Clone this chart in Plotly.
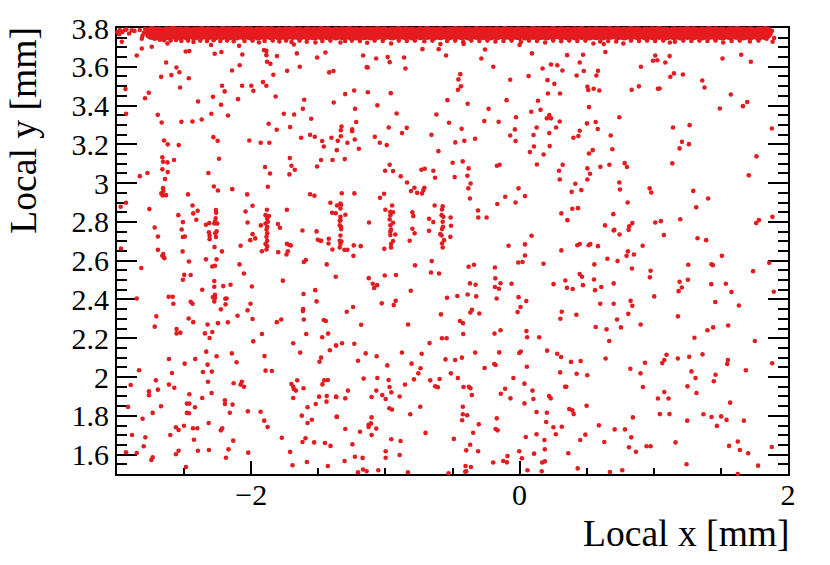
"""Hit map of the sensor in local coordinates."""
import plotly.graph_objects as go

RED = "#e41b1f"
BLACK = "#000000"
SERIF = "Liberation Serif, Times New Roman, serif"

X_TICKS = [-2, 0, 2]
X_TICK_LABELS = ["−2", "0", "2"]
Y_TICKS = [1.6, 1.8, 2, 2.2, 2.4, 2.6, 2.8, 3, 3.2, 3.4, 3.6, 3.8]
Y_TICK_LABELS = ["1.6", "1.8", "2", "2.2", "2.4", "2.6", "2.8", "3", "3.2", "3.4", "3.6", "3.8"]

# saturated strip along the top edge, too dense to read single hits
BAND_CORE = [
    (-2.74, 3.774), (-2.69, 3.772), (-2.63, 3.773), (-2.58, 3.775), (-2.53, 3.772), (-2.48, 3.773), (-2.42, 3.772),
    (-2.37, 3.774), (-2.32, 3.773), (-2.27, 3.772), (-2.21, 3.774), (-2.16, 3.773), (-2.11, 3.772), (-2.06, 3.774),
    (-2.01, 3.773), (-1.95, 3.772), (-1.90, 3.774), (-1.85, 3.773), (-1.79, 3.772), (-1.74, 3.773), (-1.69, 3.774),
    (-1.64, 3.772), (-1.58, 3.773), (-1.53, 3.772), (-1.48, 3.774), (-1.43, 3.773), (-1.37, 3.772), (-1.32, 3.773),
    (-1.27, 3.774), (-1.22, 3.772), (-1.16, 3.773), (-1.11, 3.772), (-1.06, 3.774), (-1.01, 3.773), (-0.95, 3.772),
    (-0.90, 3.774), (-0.85, 3.773), (-0.80, 3.772), (-0.74, 3.773), (-0.69, 3.774), (-0.64, 3.772), (-0.59, 3.773),
    (-0.53, 3.772), (-0.48, 3.774), (-0.43, 3.773), (-0.38, 3.772), (-0.32, 3.774), (-0.27, 3.773), (-0.22, 3.772),
    (-0.17, 3.773), (-0.11, 3.774), (-0.06, 3.772), (-0.01, 3.773), (0.04, 3.772), (0.10, 3.774), (0.15, 3.773),
    (0.20, 3.772), (0.25, 3.774), (0.31, 3.773), (0.36, 3.772), (0.41, 3.773), (0.46, 3.774), (0.52, 3.772),
    (0.57, 3.773), (0.62, 3.772), (0.67, 3.774), (0.73, 3.773), (0.78, 3.772), (0.83, 3.774), (0.88, 3.773),
    (0.94, 3.772), (0.99, 3.773), (1.04, 3.774), (1.09, 3.772), (1.15, 3.773), (1.20, 3.772), (1.25, 3.774),
    (1.30, 3.773), (1.36, 3.772), (1.41, 3.774), (1.46, 3.773), (1.51, 3.772), (1.57, 3.773), (1.62, 3.774),
    (1.67, 3.772), (1.72, 3.773), (1.78, 3.772), (1.83, 3.774),
]

BAND_EDGE = [
    (-2.997, 3.779), (-2.979, 3.789), (-2.985, 3.768), (-2.96, 3.78), (-2.94, 3.79), (-2.93, 3.793), (-2.91, 3.772),
    (-2.89, 3.788), (-2.87, 3.785), (-2.83, 3.79), (-2.815, 3.745), (-2.81, 3.76), (-2.80, 3.775), (-2.79, 3.795),
    (-2.77, 3.76), (-2.76, 3.785), (-2.74, 3.755), (-2.72, 3.745), (-2.68, 3.74), (-2.65, 3.737), (-2.624, 3.72),
    (-2.60, 3.735), (-2.56, 3.738), (-2.52, 3.733), (-2.47, 3.735), (-2.43, 3.728), (-2.38, 3.735), (-2.33, 3.733),
    (-2.28, 3.737), (-2.23, 3.733), (-2.18, 3.735), (-2.13, 3.732), (-2.09, 3.708), (-2.05, 3.733), (-1.99, 3.735),
    (-1.942, 3.725), (-1.90, 3.733), (-1.84, 3.735), (-1.79, 3.731), (-1.74, 3.735), (-1.70, 3.728), (-1.64, 3.735),
    (-1.586, 3.729), (-1.521, 3.725), (-1.47, 3.733), (-1.41, 3.735), (-1.335, 3.725), (-1.30, 3.733), (-1.25, 3.735),
    (-1.19, 3.733), (-1.136, 3.724), (-1.08, 3.735), (-1.02, 3.733), (-0.958, 3.72), (-0.90, 3.735), (-0.84, 3.733),
    (-0.78, 3.735), (-0.71, 3.732), (-0.65, 3.735), (-0.59, 3.717), (-0.54, 3.733), (-0.48, 3.735), (-0.42, 3.728),
    (-0.36, 3.735), (-0.30, 3.733), (-0.24, 3.735), (-0.18, 3.73), (-0.12, 3.733), (-0.06, 3.735), (0.01, 3.728),
    (0.07, 3.735), (0.13, 3.733), (0.19, 3.725), (0.25, 3.735), (0.31, 3.732), (0.37, 3.735), (0.43, 3.733),
    (0.49, 3.735), (0.55, 3.72), (0.60, 3.73), (0.66, 3.733), (0.72, 3.73), (0.773, 3.72), (0.83, 3.735),
    (0.89, 3.733), (0.95, 3.735), (1.01, 3.733), (1.07, 3.735), (1.12, 3.725), (1.157, 3.729), (1.22, 3.735),
    (1.28, 3.733), (1.34, 3.735), (1.40, 3.733), (1.46, 3.735), (1.517, 3.725), (1.58, 3.733), (1.64, 3.735),
    (1.716, 3.73), (1.78, 3.735), (1.84, 3.745), (1.87, 3.77), (1.88, 3.785), (1.86, 3.793),
]

HITS_UPPER = [
    (-2.964, 3.729), (-2.853, 3.658), (-2.815, 3.694), (-2.741, 3.703), (-2.937, 3.485), (-2.791, 3.438),
    (-2.763, 3.466), (-2.932, 3.358), (-2.696, 3.352), (-2.667, 3.313), (-2.671, 3.548), (-2.634, 3.622),
    (-2.595, 3.557), (-2.557, 3.596), (-2.535, 3.572), (-2.465, 3.541), (-2.53, 3.493), (-2.488, 3.679),
    (-2.461, 3.681), (-2.52, 3.316), (-2.438, 3.318), (-2.369, 3.328), (-2.396, 3.421), (-2.285, 3.445),
    (-2.297, 3.358), (-2.217, 3.502), (-2.198, 3.473), (-2.225, 3.404), (-2.173, 3.349), (-2.143, 3.581),
    (-2.272, 3.667), (-2.222, 3.676), (-2.299, 3.712), (-2.086, 3.608), (-2.098, 3.433), (-2.068, 3.502),
    (-2.066, 3.663), (-1.999, 3.502), (-1.984, 3.476), (-1.912, 3.521), (-1.887, 3.502), (-1.905, 3.686),
    (-1.887, 3.682), (-1.887, 3.66), (-1.882, 3.626), (-1.857, 3.615), (-1.835, 3.559), (-1.808, 3.655),
    (-1.818, 3.447), (-1.87, 3.306), (-1.81, 3.275), (-2.014, 3.22), (-1.929, 3.208), (-1.865, 3.208),
    (-2.282, 3.237), (-2.25, 3.218), (-2.24, 3.126), (-2.319, 3.052), (-2.649, 3.22), (-2.622, 3.2),
    (-2.54, 3.196), (-2.662, 3.133), (-2.657, 3.11), (-2.624, 3.107), (-2.575, 3.119), (-2.662, 3.071),
    (-2.622, 3.057), (-2.83, 3.036), (-2.773, 3.052), (-2.642, 3.021), (-1.897, 3.083), (-1.86, 3.05),
    (-1.682, 3.715), (-1.66, 3.669), (-1.638, 3.6), (-1.732, 3.579), (-1.509, 3.648), (-1.447, 3.674),
    (-1.419, 3.571), (-1.387, 3.578), (-1.166, 3.658), (-1.069, 3.643), (-0.983, 3.65), (-0.968, 3.624),
    (-0.861, 3.648), (-0.851, 3.591), (-1.139, 3.598), (-1.132, 3.596), (-0.724, 3.691), (-0.603, 3.691),
    (-0.548, 3.658), (-0.258, 3.689), (-0.285, 3.643), (-0.196, 3.6), (-0.417, 3.718), (0.0, 3.712),
    (0.092, 3.669), (0.171, 3.591), (0.067, 3.552), (-0.07, 3.533), (0.208, 3.531), (0.211, 3.462),
    (-0.442, 3.562), (-0.456, 3.535), (-0.437, 3.499), (-0.459, 3.481), (-0.538, 3.428), (-0.387, 3.409),
    (-0.097, 3.428), (-0.231, 3.383), (0.137, 3.425), (0.087, 3.368), (0.156, 3.378), (-0.027, 3.34),
    (0.203, 3.334), (0.221, 3.351), (-0.263, 3.32), (-0.156, 3.316), (-0.62, 3.354), (-0.526, 3.311),
    (-0.432, 3.28), (-0.035, 3.277), (0.127, 3.287), (-0.07, 3.246), (0.104, 3.248), (-0.03, 3.217),
    (-0.657, 3.249), (-0.479, 3.21), (-0.412, 3.218), (-0.332, 3.229), (0.107, 3.189), (0.077, 3.16),
    (0.179, 3.148), (0.221, 3.258), (0.224, 3.191), (-0.605, 3.165), (-0.499, 3.105), (-0.424, 3.112),
    (-0.38, 3.076), (-0.169, 3.09), (-0.149, 3.095), (0.129, 3.096), (-0.732, 3.069), (-0.707, 3.074),
    (-0.643, 3.064), (-0.63, 3.028), (-0.484, 3.031), (-0.389, 3.038), (-1.002, 3.064), (-0.968, 3.095),
    (-0.943, 3.062), (-0.886, 3.035), (-0.96, 3.464), (-1.131, 3.469), (-1.233, 3.478), (-1.3, 3.459),
    (-1.385, 3.416), (-1.605, 3.43), (-1.615, 3.383), (-1.757, 3.358), (-1.68, 3.354), (-1.553, 3.332),
    (-1.06, 3.401), (-1.226, 3.383), (-0.916, 3.359), (-1.218, 3.315), (-0.975, 3.287), (-0.841, 3.285),
    (-0.876, 3.258), (-1.327, 3.292), (-1.332, 3.273), (-1.332, 3.242), (-1.248, 3.277), (-1.248, 3.268),
    (-1.71, 3.289), (-1.628, 3.234), (-1.561, 3.249), (-1.526, 3.239), (-1.402, 3.234), (-1.471, 3.217),
    (-1.459, 3.189), (-1.355, 3.218), (-1.283, 3.208), (-1.228, 3.225), (-1.079, 3.239), (-1.042, 3.208),
    (-0.99, 3.196), (-1.198, 3.177), (-1.362, 3.17), (-1.303, 3.124), (-1.394, 3.119), (-1.479, 3.119),
    (-1.509, 3.086), (-1.712, 3.129), (-1.7, 3.09), (-1.675, 3.069), (-1.715, 3.045),
    (0.627, 3.717), (0.639, 3.676), (0.354, 3.66), (0.473, 3.662), (0.448, 3.622), (0.234, 3.612),
    (0.281, 3.608), (0.319, 3.581), (0.478, 3.578), (0.425, 3.555), (0.584, 3.579), (0.572, 3.555),
    (0.259, 3.512), (0.301, 3.462), (0.505, 3.497), (0.512, 3.48), (0.552, 3.487), (0.594, 3.478),
    (0.904, 3.6), (0.835, 3.481), (0.889, 3.499), (1.011, 3.658), (0.994, 3.631), (1.026, 3.634),
    (1.118, 3.655), (1.086, 3.622), (1.15, 3.566), (1.123, 3.548), (1.217, 3.56), (1.031, 3.487),
    (1.043, 3.488), (1.361, 3.529), (1.378, 3.493), (1.512, 3.643), (1.651, 3.662), (1.723, 3.626),
    (1.897, 3.748), (1.885, 3.729), (1.574, 3.457), (1.696, 3.418), (1.664, 3.397), (1.492, 3.385),
    (0.517, 3.392), (0.743, 3.34), (0.299, 3.318), (0.502, 3.308), (0.567, 3.315), (0.272, 3.287),
    (0.582, 3.279), (0.448, 3.27), (0.438, 3.243), (0.401, 3.234), (0.679, 3.246), (1.143, 3.287),
    (1.267, 3.299), (1.88, 3.282), (1.21, 3.213), (1.262, 3.201), (1.192, 3.179), (0.691, 3.175),
    (0.545, 3.17), (0.517, 3.153), (1.765, 3.138), (0.321, 3.095), (0.294, 3.064), (0.505, 3.076),
    (0.525, 3.048), (0.602, 3.084), (0.669, 3.095), (0.783, 3.103), (0.8, 3.083), (1.138, 3.102),
    (1.708, 3.04), (0.299, 3.019), (0.505, 3.019), (0.234, 3.334),
]

HITS_MIDDLE = [
    (-2.657, 2.974), (-2.655, 2.959), (-2.67, 2.947), (-2.66, 2.936), (-2.635, 2.938), (-3.002, 2.938),
    (-2.933, 2.899), (-2.973, 2.878), (-2.759, 2.866), (-2.471, 2.942), (-2.278, 2.983), (-2.248, 2.962),
    (-2.141, 2.969), (-2.03, 2.942), (-1.876, 2.981), (-2.437, 2.885), (-1.99, 2.883), (-1.561, 2.943),
    (-1.529, 2.935), (-2.432, 2.844), (-2.399, 2.857), (-2.543, 2.835), (-2.509, 2.799), (-2.409, 2.811),
    (-2.263, 2.861), (-2.261, 2.847), (-2.265, 2.818), (-2.27, 2.801), (-2.253, 2.792), (-2.275, 2.792),
    (-2.312, 2.794), (-2.337, 2.785), (-2.042, 2.854), (-2.027, 2.797), (-1.883, 2.863), (-1.734, 2.863),
    (-1.893, 2.835), (-1.868, 2.83), (-1.881, 2.818), (-1.876, 2.801), (-1.893, 2.792), (-1.881, 2.775),
    (-1.886, 2.761), (-1.881, 2.741), (-1.886, 2.723), (-1.881, 2.703), (-1.893, 2.686), (-1.881, 2.675),
    (-1.886, 2.658), (-1.92, 2.649), (-1.928, 2.782), (-1.801, 2.789), (-1.786, 2.77), (-2.719, 2.771),
    (-2.518, 2.761), (-2.695, 2.725), (-2.509, 2.722), (-2.494, 2.725), (-2.315, 2.747), (-2.31, 2.73),
    (-2.31, 2.711), (-2.258, 2.751), (-2.268, 2.741), (-2.263, 2.722), (-1.99, 2.737), (-1.97, 2.715),
    (-2.007, 2.706), (-1.618, 2.756), (-1.513, 2.751), (-1.504, 2.708), (-1.484, 2.703), (-1.734, 2.687),
    (-1.719, 2.682), (-1.705, 2.679), (-2.273, 2.67), (-2.218, 2.648), (-2.079, 2.677), (-2.97, 2.663),
    (-2.695, 2.656), (-2.655, 2.634), (-2.662, 2.625), (-2.647, 2.613), (-2.511, 2.648), (-1.799, 2.644),
    (-1.727, 2.649), (-1.737, 2.632), (-2.464, 2.596), (-2.337, 2.607), (-2.258, 2.607), (-2.29, 2.57),
    (-2.27, 2.574), (-2.087, 2.581), (-1.593, 2.603), (-1.608, 2.593), (-2.819, 2.562), (-2.054, 2.534),
    (-2.499, 2.527), (-2.451, 2.526), (-2.509, 2.502), (-2.275, 2.495), (-2.275, 2.466), (-2.208, 2.469),
    (-2.154, 2.476), (-1.995, 2.467), (-1.764, 2.497), (-2.365, 2.45), (-1.523, 2.448), (-1.61, 2.428),
    (-2.853, 2.405), (-2.615, 2.414), (-2.585, 2.414), (-2.27, 2.424), (-2.285, 2.412), (-2.27, 2.407),
    (-2.275, 2.39), (-2.193, 2.404), (-2.183, 2.405), (-2.451, 2.388), (-2.437, 2.378), (-2.58, 2.378),
    (-2.191, 2.375), (-2.005, 2.378), (-1.513, 2.39), (-2.226, 2.349), (-2.027, 2.344), (-1.613, 2.35),
    (-1.615, 2.34), (-2.707, 2.313), (-2.466, 2.302), (-2.432, 2.283), (-2.325, 2.271), (-2.248, 2.278),
    (-2.174, 2.282), (-2.102, 2.316), (-1.99, 2.299), (-1.809, 2.283), (-1.776, 2.297), (-1.608, 2.297),
    (-0.365, 2.998), (-0.382, 2.973), (-0.37, 2.921), (-0.839, 3.003), (-0.784, 2.976), (-0.809, 2.959),
    (-0.764, 2.95), (-0.727, 2.947), (-0.71, 2.976), (-0.717, 2.964), (-1.01, 2.945), (-1.04, 2.924),
    (-1.325, 2.948), (-1.231, 2.947), (-1.41, 2.899), (-1.335, 2.895), (-1.36, 2.885), (-1.33, 2.888),
    (-1.335, 2.869), (-1.397, 2.847), (-1.37, 2.845), (-1.298, 2.837), (-1.335, 2.826), (-1.335, 2.809),
    (-1.34, 2.806), (-1.122, 2.797), (-1.34, 2.782), (-1.33, 2.775), (-1.33, 2.763), (-1.335, 2.73),
    (-1.34, 2.703), (-1.328, 2.699), (-1.335, 2.686), (-1.34, 2.668), (-1.422, 2.713), (-1.424, 2.689),
    (-1.479, 2.703), (-1.395, 2.658), (-1.305, 2.656), (-1.283, 2.656), (-1.236, 2.679), (-1.184, 2.675),
    (-1.238, 2.625), (-1.437, 2.581), (-1.37, 2.517), (-0.95, 2.885), (-1.0, 2.863), (-0.963, 2.852),
    (-0.943, 2.85), (-0.963, 2.835), (-0.968, 2.813), (-0.943, 2.796), (-0.963, 2.783), (-0.958, 2.761),
    (-0.963, 2.749), (-0.926, 2.735), (-0.963, 2.732), (-0.943, 2.701), (-0.958, 2.686), (-0.958, 2.668),
    (-1.008, 2.661), (-0.799, 2.85), (-0.792, 2.83), (-0.799, 2.765), (-0.782, 2.741), (-0.819, 2.703),
    (-0.675, 2.816), (-0.643, 2.799), (-0.675, 2.754), (-0.633, 2.885), (-0.573, 2.881), (-0.578, 2.864),
    (-0.581, 2.835), (-0.568, 2.826), (-0.573, 2.801), (-0.571, 2.775), (-0.578, 2.763), (-0.591, 2.737),
    (-0.581, 2.73), (-0.563, 2.706), (-0.578, 2.689), (-0.573, 2.668), (-0.514, 2.823), (-0.511, 2.78),
    (-0.516, 2.723), (-0.31, 2.859), (-0.308, 2.823), (-0.246, 2.823), (-0.166, 2.892), (-0.107, 2.93),
    (-0.008, 2.973), (0.04, 2.933), (-0.03, 2.9), (0.089, 2.729), (-0.082, 2.677), (0.04, 2.684),
    (0.04, 2.627), (-0.01, 2.591), (0.022, 2.593), (0.178, 2.584), (-0.655, 2.598), (-0.779, 2.576),
    (-0.66, 2.539), (-0.6, 2.534), (-0.38, 2.569), (-0.34, 2.579), (-0.184, 2.565), (-0.181, 2.509),
    (-0.142, 2.484), (-0.184, 2.464), (-0.154, 2.455), (-0.06, 2.481), (0.253, 2.479), (-1.005, 2.524),
    (-0.921, 2.526), (-1.124, 2.51), (-1.094, 2.481), (-1.062, 2.474), (-1.084, 2.459), (-0.811, 2.445),
    (-0.37, 2.483), (-0.328, 2.476), (-0.387, 2.426), (-0.323, 2.416), (-0.464, 2.418), (-0.541, 2.409),
    (-0.171, 2.405), (-0.008, 2.412), (0.05, 2.392), (0.007, 2.361), (-0.015, 2.335), (-1.027, 2.38),
    (-0.923, 2.393), (-0.938, 2.371), (-1.241, 2.361), (-1.288, 2.337), (-0.355, 2.347), (-0.367, 2.333),
    (-0.30, 2.328), (-0.586, 2.323), (-0.444, 2.289), (-0.422, 2.278), (-1.459, 2.294), (-1.444, 2.289),
    (-1.181, 2.27), (-0.831, 2.271),
    (0.743, 3.003), (0.748, 2.967), (0.415, 2.997), (0.388, 2.955), (0.46, 2.964), (0.969, 2.973),
    (0.981, 2.952), (1.294, 2.96), (1.405, 2.921), (0.805, 2.9), (0.393, 2.868), (0.435, 2.871),
    (1.316, 2.875), (0.311, 2.844), (0.356, 2.809), (0.698, 2.84), (0.636, 2.782), (0.701, 2.756),
    (0.706, 2.759), (0.745, 2.735), (0.812, 2.759), (0.817, 2.777), (0.84, 2.794), (1.011, 2.797),
    (1.053, 2.804), (1.197, 2.814), (1.075, 2.732), (1.884, 2.826), (1.783, 2.809), (1.763, 2.794),
    (1.326, 2.716), (1.39, 2.706), (0.43, 2.68), (0.448, 2.686), (0.515, 2.68), (0.527, 2.686),
    (0.584, 2.675), (0.917, 2.677), (0.311, 2.653), (0.807, 2.648), (0.797, 2.625), (0.852, 2.632),
    (0.654, 2.61), (0.73, 2.598), (0.557, 2.581), (0.837, 2.56), (1.257, 2.579), (1.43, 2.582),
    (1.44, 2.577), (1.507, 2.625), (1.86, 2.589), (1.74, 2.546), (0.976, 2.548), (0.971, 2.514),
    (0.448, 2.531), (0.465, 2.517), (0.341, 2.498), (0.554, 2.503), (0.472, 2.474), (0.353, 2.46),
    (0.396, 2.454), (0.562, 2.448), (0.609, 2.464), (0.701, 2.483), (1.192, 2.491), (1.254, 2.502),
    (1.428, 2.479), (1.537, 2.481), (1.209, 2.462), (1.185, 2.443), (1.579, 2.438), (1.894, 2.44),
    (1.003, 2.416), (0.827, 2.393), (0.84, 2.368), (0.601, 2.378), (0.701, 2.378), (1.458, 2.387),
    (1.634, 2.369), (0.314, 2.337), (0.304, 2.301), (0.423, 2.321), (0.81, 2.326), (0.726, 2.297),
    (1.18, 2.313), (0.902, 2.271), (1.554, 2.266),
]

HITS_LOWER = [
    (-2.719, 2.26), (-2.556, 2.248), (-2.556, 2.225), (-2.528, 2.229), (-2.345, 2.225), (-2.29, 2.232),
    (-2.31, 2.201), (-1.92, 2.222), (-1.985, 2.184), (-1.59, 2.222), (-1.687, 2.174), (-1.471, 2.205),
    (-1.427, 2.224), (-1.367, 2.163), (-1.414, 2.138), (-1.635, 2.126), (-1.479, 2.1), (-1.491, 2.079),
    (-2.335, 2.131), (-2.258, 2.107), (-2.144, 2.122), (-2.109, 2.076), (-1.901, 2.108), (-2.613, 2.093),
    (-2.417, 2.093), (-2.496, 2.069), (-2.325, 2.064), (-2.836, 2.035), (-2.59, 2.021), (-2.36, 2.026),
    (-2.293, 2.028), (-1.893, 2.033), (-1.846, 2.031), (-2.71, 1.983), (-2.898, 1.959), (-2.613, 1.961),
    (-2.573, 1.945), (-2.322, 1.976), (-2.131, 1.968), (-2.07, 1.976), (-2.079, 1.961), (-2.054, 1.95),
    (-1.7, 1.964), (-1.687, 1.95), (-1.682, 1.938), (-1.667, 1.93), (-1.657, 1.983), (-1.61, 1.942),
    (-1.469, 1.962), (-1.456, 1.983), (-1.429, 1.985), (-2.762, 1.926), (-2.762, 1.906), (-2.695, 1.935),
    (-2.461, 1.911), (-2.295, 1.918), (-2.365, 1.892), (-1.687, 1.892), (-1.494, 1.899), (-1.437, 1.902),
    (-1.367, 1.899), (-1.439, 1.873), (-1.519, 1.861), (-1.58, 1.844), (-2.196, 1.88), (-2.196, 1.861),
    (-2.139, 1.858), (-2.479, 1.863), (-2.461, 1.863), (-2.419, 1.844), (-2.918, 1.846), (-2.672, 1.849),
    (-2.734, 1.815), (-2.479, 1.815), (-2.464, 1.813), (-2.159, 1.816), (-2.025, 1.823), (-1.93, 1.821),
    (-1.623, 1.801), (-1.362, 1.796), (-1.548, 1.78), (-1.58, 1.763), (-2.809, 1.785), (-1.903, 1.775),
    (-2.317, 1.763), (-2.561, 1.741), (-2.541, 1.727), (-2.501, 1.749), (-2.434, 1.736), (-2.402, 1.736),
    (-2.216, 1.736), (-2.226, 1.725), (-1.878, 1.742), (-2.888, 1.701), (-2.789, 1.689), (-2.603, 1.701),
    (-2.427, 1.677), (-2.134, 1.672), (-1.772, 1.687), (-1.595, 1.684), (-1.618, 1.665), (-1.531, 1.663),
    (-1.451, 1.66), (-1.409, 1.645), (-2.801, 1.643), (-2.933, 1.612), (-2.853, 1.608), (-2.561, 1.602),
    (-2.541, 1.62), (-2.397, 1.62), (-2.315, 1.624), (-2.169, 1.627), (-2.022, 1.61), (-1.71, 1.614),
    (-2.734, 1.586), (-2.744, 1.572), (-2.188, 1.584), (-1.692, 1.545), (-1.585, 1.562), (-1.429, 1.541),
    (-2.486, 1.536),
    (-0.42, 2.222), (-0.187, 2.224), (-0.142, 2.241), (0.051, 2.237), (0.056, 2.205), (0.146, 2.205),
    (-0.579, 2.2), (-0.544, 2.2), (-0.671, 2.175), (-1.368, 2.163), (-1.323, 2.174), (-1.232, 2.172),
    (-1.147, 2.122), (-1.065, 2.107), (-1.204, 2.084), (-0.877, 2.126), (-0.73, 2.12), (-0.331, 2.126),
    (-0.152, 2.127), (-0.003, 2.124), (0.009, 2.132), (0.205, 2.136), (0.28, 2.12), (0.309, 2.103),
    (-0.552, 2.091), (-0.48, 2.088), (-0.43, 2.1), (-0.986, 2.06), (-0.805, 2.069), (-0.738, 2.045),
    (-0.755, 2.019), (-0.189, 2.067), (-0.179, 2.062), (-0.261, 2.047), (0.054, 2.053), (-0.512, 2.019),
    (0.302, 2.024), (-1.162, 1.992), (-1.06, 1.995), (-0.976, 1.985), (-0.787, 1.988), (-0.666, 1.983),
    (-0.596, 1.99), (-0.46, 1.995), (-0.046, 1.995), (0.036, 1.966), (-0.854, 1.961), (-0.969, 1.949),
    (-0.629, 1.952), (-0.609, 1.947), (-0.418, 1.949), (-0.378, 1.95), (-0.366, 1.942), (-0.108, 1.94),
    (0.096, 1.93), (0.339, 1.95), (-1.279, 1.93), (-1.068, 1.93), (-0.956, 1.921), (-0.14, 1.914),
    (-0.356, 1.907), (-1.366, 1.897), (-1.299, 1.89), (-1.103, 1.897), (-1.023, 1.907), (-0.998, 1.887),
    (-0.894, 1.9), (-0.068, 1.89), (0.103, 1.887), (0.22, 1.902), (0.232, 1.89), (0.036, 1.864),
    (-0.74, 1.847), (-0.423, 1.847), (-0.971, 1.839), (-0.951, 1.832), (0.126, 1.82), (0.203, 1.816),
    (-0.815, 1.808), (-0.423, 1.808), (-0.391, 1.803), (-1.363, 1.794), (-1.103, 1.792), (-0.17, 1.787),
    (-0.428, 1.777), (0.198, 1.768), (-1.107, 1.761), (-1.125, 1.754), (-1.125, 1.742), (-0.304, 1.756),
    (0.252, 1.741), (0.314, 1.744), (-1.299, 1.732), (-1.068, 1.734), (-0.179, 1.732), (-0.164, 1.725),
    (-1.189, 1.718), (-1.103, 1.701), (-0.701, 1.712), (-0.346, 1.713), (0.126, 1.705), (0.27, 1.705),
    (0.046, 1.691), (0.185, 1.675), (-0.956, 1.679), (-0.887, 1.67), (-0.49, 1.681), (-1.246, 1.653),
    (-0.368, 1.651), (-0.398, 1.622), (-0.309, 1.617), (-0.003, 1.617), (0.188, 1.627), (-0.998, 1.617),
    (0.108, 1.605), (-0.894, 1.598), (-1.227, 1.589), (-1.17, 1.583), (-0.998, 1.584), (-0.09, 1.593),
    (0.017, 1.581), (-1.304, 1.567), (-0.122, 1.567), (-0.095, 1.56), (-0.197, 1.559), (0.168, 1.559),
    (0.188, 1.565), (-0.403, 1.541), (-0.363, 1.536), (-1.167, 1.523), (-1.14, 1.514), (-1.053, 1.519),
    (-0.398, 1.514), (-0.405, 1.512), (0.059, 1.519), (0.165, 1.514), (-1.204, 1.509), (-0.832, 1.509),
    (-0.529, 1.504),
    (0.567, 2.258), (0.648, 2.246), (0.755, 2.256), (0.668, 2.186), (1.303, 2.203), (1.4, 2.241),
    (1.442, 2.256), (1.753, 2.186), (1.095, 2.115), (1.363, 2.117), (1.179, 2.096), (1.264, 2.105),
    (1.063, 2.072), (1.078, 2.088), (0.934, 2.074), (0.641, 2.096), (0.383, 2.078), (0.455, 2.083),
    (0.425, 2.017), (0.504, 2.009), (0.825, 2.043), (0.901, 2.019), (1.552, 2.088), (1.547, 2.067),
    (1.882, 2.071), (1.686, 2.035), (1.281, 2.029), (1.311, 1.995), (1.46, 2.012), (1.447, 1.978),
    (0.348, 1.95), (0.919, 1.949), (1.251, 1.952), (1.318, 1.918), (1.078, 1.923), (1.031, 1.889),
    (1.11, 1.889), (1.569, 1.868), (0.499, 1.852), (0.37, 1.835), (0.393, 1.828), (0.403, 1.809),
    (1.045, 1.809), (1.117, 1.809), (1.37, 1.808), (1.43, 1.794), (1.502, 1.797), (1.542, 1.779),
    (1.671, 1.775), (1.249, 1.775), (0.844, 1.792), (1.47, 1.748), (0.591, 1.751), (0.708, 1.73),
    (0.785, 1.73), (0.49, 1.703), (0.452, 1.675), (0.832, 1.689), (0.631, 1.665), (1.162, 1.663),
    (1.561, 1.645), (1.626, 1.667), (0.815, 1.638), (0.946, 1.643), (0.976, 1.643), (1.879, 1.639),
    (0.867, 1.615), (1.641, 1.624), (1.703, 1.607), (0.363, 1.607), (1.244, 1.55), (1.777, 1.543),
    (0.433, 1.529), (0.765, 1.519), (0.673, 1.51), (1.418, 1.498), (1.626, 1.5),
]


def scatter(points, size):
    xs, ys = zip(*points)
    return go.Scatter(
        x=xs,
        y=ys,
        mode="markers",
        marker=dict(color=RED, size=size, line=dict(width=0)),
        cliponaxis=False,
        showlegend=False,
    )


fig = go.Figure()
fig.add_trace(scatter(BAND_CORE, 14))
fig.add_trace(scatter(BAND_EDGE + HITS_UPPER + HITS_MIDDLE + HITS_LOWER, 4.6))

axis_style = dict(
    showgrid=False,
    zeroline=False,
    showline=True,
    linecolor=BLACK,
    linewidth=2,
    mirror="ticks",
    ticks="inside",
    tickcolor=BLACK,
    tickwidth=2,
    layer="below traces",
    automargin=False,
    tickfont=dict(family=SERIF, size=30, color=BLACK),
)

fig.update_xaxes(
    range=[-3, 2],
    tickmode="array",
    tickvals=X_TICKS,
    ticktext=X_TICK_LABELS,
    ticklen=13,
    ticklabelstandoff=-7,
    minor=dict(ticks="inside", tick0=0, dtick=0.5, ticklen=6.5, tickwidth=2, tickcolor=BLACK, showgrid=False),
    **axis_style,
)
fig.update_yaxes(
    range=[1.5, 3.8],
    tickmode="array",
    tickvals=Y_TICKS,
    ticktext=Y_TICK_LABELS,
    ticklen=20,
    minor=dict(ticks="inside", tick0=1.5, dtick=0.05, ticklen=10, tickwidth=2, tickcolor=BLACK, showgrid=False),
    **axis_style,
)

fig.add_annotation(
    text="Local x [mm]",
    xref="paper",
    yref="paper",
    x=1.006,
    y=-0.133,
    xanchor="right",
    yanchor="middle",
    showarrow=False,
    font=dict(family=SERIF, size=37.6, color=BLACK),
)
fig.add_annotation(
    text="Local y [mm]",
    xref="paper",
    yref="paper",
    x=-0.139,
    y=1.008,
    xanchor="center",
    yanchor="top",
    textangle=-90,
    showarrow=False,
    font=dict(family=SERIF, size=37.6, color=BLACK),
)

# the page keeps its default 8 px body margin, so the figure is smaller than the window
fig.update_layout(
    width=822,
    height=557,
    margin=dict(l=109, r=42, t=20, b=91),
    paper_bgcolor="white",
    plot_bgcolor="white",
)

fig.write_html("out.html")
